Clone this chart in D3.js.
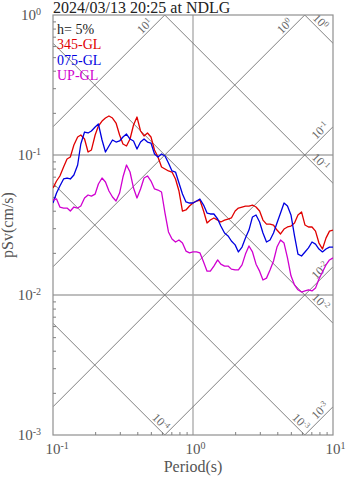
<!DOCTYPE html>
<html>
<head>
<meta charset="utf-8">
<script src="https://cdn.jsdelivr.net/npm/d3@7"></script>
<style>
html, body { margin: 0; padding: 0; background: #fff; }
svg { display: block; font-family: "Liberation Serif", "Times New Roman", serif; }
</style>
</head>
<body>
<svg id="chart" width="347" height="478"></svg>
<script>
// Pseudo-velocity response spectra (h = 5%), tripartite log-log plot
const titleText = "2024/03/13 20:25 at NDLG";
const dampingText = "h= 5%";

// Periods (s) shared by all components
const periods = [
  0.100,0.106,0.112,0.119,0.126,0.133,0.141,0.150,0.158,0.168,
  0.178,0.188,0.200,0.211,0.224,0.237,0.251,0.266,0.282,0.299,
  0.316,0.335,0.355,0.376,0.398,0.422,0.447,0.473,0.501,0.531,
  0.562,0.596,0.631,0.668,0.708,0.750,0.794,0.841,0.891,0.944,
  1.00,1.06,1.12,1.19,1.26,1.33,1.41,1.50,1.58,1.68,
  1.78,1.88,2.00,2.11,2.24,2.37,2.51,2.66,2.82,2.99,
  3.16,3.35,3.55,3.76,3.98,4.22,4.47,4.73,5.01,5.31,
  5.62,5.96,6.31,6.68,7.08,7.50,7.94,8.41,8.91,9.44,
  10.0
];

// pSv (cm/s), component 345-GL
const sv345 = [
  0.0581,0.0652,0.0708,0.0821,0.0936,0.0968,0.1179,0.1344,0.1389,0.1301,
  0.1050,0.1085,0.1389,0.1611,0.1749,0.1837,0.1899,0.1837,0.1692,0.1389,
  0.1198,0.1159,0.1301,0.1638,0.1868,0.1484,0.1367,0.1436,0.1344,0.1085,
  0.0968,0.0821,0.0794,0.0769,0.0756,0.0674,0.0553,0.0398,0.0405,0.0432,
  0.0454,0.0469,0.0477,0.0398,0.0327,0.0343,0.0355,0.0343,0.0332,0.0343,
  0.0349,0.0355,0.0398,0.0418,0.0425,0.0432,0.0432,0.0439,0.0425,0.0398,
  0.0343,0.0321,0.0321,0.0316,0.0291,0.0273,0.0296,0.0306,0.0311,0.0327,
  0.0373,0.0392,0.0316,0.0306,0.0306,0.0286,0.0235,0.0213,0.0255,0.0286,
  0.0291
];

// pSv (cm/s), component 075-GL
const sv075 = [
  0.0454,0.0535,0.0600,0.0674,0.0685,0.0674,0.0720,0.0848,0.1198,0.1459,
  0.1436,0.1484,0.1585,0.1665,0.1280,0.1050,0.1159,0.1280,0.1238,0.1259,
  0.1344,0.1412,0.1301,0.1259,0.1103,0.1238,0.1301,0.1238,0.1218,0.1016,
  0.0968,0.1016,0.0984,0.0877,0.0769,0.0756,0.0631,0.0526,0.0462,0.0454,
  0.0454,0.0469,0.0485,0.0439,0.0385,0.0379,0.0379,0.0349,0.0311,0.0277,
  0.0264,0.0243,0.0228,0.0203,0.0220,0.0255,0.0291,0.0361,0.0373,0.0332,
  0.0277,0.0239,0.0247,0.0277,0.0327,0.0385,0.0454,0.0432,0.0373,0.0264,
  0.0196,0.0190,0.0203,0.0217,0.0239,0.0231,0.0213,0.0203,0.0213,0.0220,
  0.0220
];

// pSv (cm/s), vertical component UP-GL
const svUP = [
  0.0477,0.0485,0.0425,0.0418,0.0418,0.0398,0.0425,0.0418,0.0432,0.0493,
  0.0518,0.0509,0.0526,0.0621,0.0685,0.0641,0.0553,0.0501,0.0469,0.0535,
  0.0696,0.0848,0.0756,0.0581,0.0493,0.0572,0.0685,0.0708,0.0652,0.0572,
  0.0562,0.0544,0.0385,0.0282,0.0251,0.0239,0.0247,0.0235,0.0206,0.0200,
  0.0203,0.0203,0.0200,0.0172,0.0148,0.0148,0.0161,0.0178,0.0166,0.0161,
  0.0161,0.0153,0.0151,0.0151,0.0164,0.0196,0.0224,0.0203,0.0166,0.0148,
  0.0128,0.0132,0.0151,0.0175,0.0220,0.0247,0.0235,0.0184,0.0137,0.0118,
  0.0109,0.0105,0.0107,0.0109,0.0107,0.0112,0.0130,0.0146,0.0164,0.0178,
  0.0184
];

const seriesNames = ["345-GL", "075-GL", "UP-GL"];
const seriesValues = [sv345, sv075, svUP];
const seriesColors = ["#e00000", "#0000e0", "#d000d0"];

// Decade tick values
const xDecades = [0.1, 1, 10];
const yDecades = [0.001, 0.01, 0.1, 1];

// Constant pseudo-acceleration (cm/s^2) and displacement (cm) guide lines
const accelLevels = [10, 1, 0.1, 0.01, 0.001];
const dispLevels = [1, 0.1, 0.01, 0.001, 0.0001];

const TWO_PI = 2 * Math.PI;
const plot = { left: 53, right: 333, top: 15, bottom: 435 };

const svg = d3.select("#chart");
const x = d3.scaleLog().domain([0.1, 10]).range([plot.left, plot.right]);
const y = d3.scaleLog().domain([0.001, 1]).range([plot.bottom, plot.top]);

svg.append("defs").append("clipPath").attr("id", "plotClip")
  .append("rect")
  .attr("x", plot.left).attr("y", plot.top)
  .attr("width", plot.right - plot.left).attr("height", plot.bottom - plot.top);

// Grid lines at interior decades
const grid = svg.append("g").attr("stroke", "#a8a8a8").attr("stroke-width", 1.3);
grid.selectAll("line.v").data(xDecades.slice(1, -1)).join("line")
  .attr("x1", d => x(d)).attr("x2", d => x(d))
  .attr("y1", plot.top).attr("y2", plot.bottom);
grid.selectAll("line.h").data(yDecades.slice(1, -1)).join("line")
  .attr("x1", plot.left).attr("x2", plot.right)
  .attr("y1", d => y(d)).attr("y2", d => y(d));

// Diagonal guide lines
const diag = svg.append("g").attr("clip-path", "url(#plotClip)")
  .attr("stroke", "#727272").attr("stroke-width", 0.9).attr("fill", "none");
const tMin = x.domain()[0], tMax = x.domain()[1];
const accelSv = (a, t) => a * t / TWO_PI;
const dispSv = (d, t) => TWO_PI * d / t;

accelLevels.forEach(a => {
  diag.append("line")
    .attr("x1", x(tMin)).attr("y1", y(accelSv(a, tMin)))
    .attr("x2", x(tMax)).attr("y2", y(accelSv(a, tMax)));
});
dispLevels.forEach(d => {
  diag.append("line")
    .attr("x1", x(tMin)).attr("y1", y(dispSv(d, tMin)))
    .attr("x2", x(tMax)).attr("y2", y(dispSv(d, tMax)));
});

// Power-of-ten label helper: "10" with a raised exponent
function powLabel(sel, exp, baseSize, supSize, supRaise) {
  sel.append("tspan").attr("font-size", baseSize).text("10");
  sel.append("tspan").attr("font-size", supSize).attr("dy", -supRaise).text(exp);
}

const diagLabels = svg.append("g").attr("fill", "#666");
const S2 = Math.SQRT1_2;
const perp = 6.5;

accelLevels.forEach(a => {
  // upper end of the line inside the frame
  let tEnd = TWO_PI / a, onTop = true;
  if (tEnd > tMax) { tEnd = tMax; onTop = false; }
  const ex = x(tEnd), ey = y(accelSv(a, tEnd));
  const along = onTop ? 22 : 12;
  const cx = ex - along * S2 - perp * S2;
  const cy = ey + along * S2 - perp * S2;
  const t = diagLabels.append("text")
    .attr("transform", `translate(${cx},${cy}) rotate(-45)`)
    .attr("text-anchor", "middle").attr("y", 4);
  powLabel(t, Math.round(Math.log10(a)), 12, 8, 4);
});

dispLevels.forEach(d => {
  // lower-right end of the line inside the frame
  let tEnd = TWO_PI * d / 0.001, onBottom = true;
  if (tEnd > tMax) { tEnd = tMax; onBottom = false; }
  const ex = x(tEnd), ey = y(dispSv(d, tEnd));
  const along = onBottom ? 12 : 24;
  const cx = ex - along * S2 + perp * S2;
  const cy = ey - along * S2 - perp * S2;
  const t = diagLabels.append("text")
    .attr("transform", `translate(${cx},${cy}) rotate(45)`)
    .attr("text-anchor", "middle").attr("y", 4);
  powLabel(t, Math.round(Math.log10(d)), 12, 8, 4);
});

// Frame
svg.append("rect")
  .attr("x", plot.left).attr("y", plot.top)
  .attr("width", plot.right - plot.left).attr("height", plot.bottom - plot.top)
  .attr("fill", "none").attr("stroke", "#909090").attr("stroke-width", 1.2);

// Inward minor ticks
const minorX = [], minorY = [];
xDecades.slice(0, -1).forEach(d => { for (let k = 2; k <= 9; k++) minorX.push(d * k); });
yDecades.slice(0, -1).forEach(d => { for (let k = 2; k <= 9; k++) minorY.push(d * k); });

const xAxis = svg.append("g").attr("transform", `translate(0,${plot.bottom})`)
  .call(d3.axisBottom(x).tickValues(minorX).tickSize(-3).tickFormat(""));
const yAxis = svg.append("g").attr("transform", `translate(${plot.left},0)`)
  .call(d3.axisLeft(y).tickValues(minorY).tickSize(-3).tickFormat(""));
[xAxis, yAxis].forEach(g => {
  g.select(".domain").remove();
  g.selectAll(".tick line").attr("stroke", "#808080").attr("stroke-width", 1);
});

// Decade tick labels
const tickColor = "#555";
xDecades.forEach(d => {
  const t = svg.append("text").attr("fill", tickColor)
    .attr("x", x(d) - 7.5).attr("y", plot.bottom + 19);
  powLabel(t, Math.round(Math.log10(d)), 15, 10, 5);
});
yDecades.forEach(d => {
  const t = svg.append("text").attr("fill", tickColor)
    .attr("text-anchor", "end")
    .attr("x", plot.left - 12).attr("y", y(d) + 5);
  powLabel(t, Math.round(Math.log10(d)), 15, 10, 5);
});

// Axis titles
svg.append("text").attr("fill", "#555").attr("font-size", 16)
  .attr("text-anchor", "middle")
  .attr("x", (plot.left + plot.right) / 2).attr("y", 472)
  .text("Period(s)");
svg.append("text").attr("fill", "#555").attr("font-size", 16)
  .attr("text-anchor", "middle")
  .attr("transform", `translate(13,${(plot.top + plot.bottom) / 2}) rotate(-90)`)
  .text("pSv(cm/s)");

// Spectra
const line = d3.line()
  .x((d, i) => x(periods[i]))
  .y(d => y(d));
const curves = svg.append("g").attr("clip-path", "url(#plotClip)");
seriesValues.forEach((vals, i) => {
  curves.append("path")
    .attr("d", line(vals))
    .attr("fill", "none")
    .attr("stroke", seriesColors[i])
    .attr("stroke-width", 1.3)
    .attr("stroke-linejoin", "round");
});

// Title
svg.append("text").attr("fill", "#222").attr("font-size", 16)
  .attr("x", plot.left).attr("y", 12.5)
  .text(titleText);

// Legend
const legendSize = 14, legendStep = 15.6;
const legend = svg.append("g").attr("font-size", legendSize);
legend.append("text").attr("x", 57).attr("y", 33.5).attr("fill", "#222").text(dampingText);
seriesNames.forEach((name, i) => {
  legend.append("text").attr("x", 57).attr("y", 33.5 + (i + 1) * legendStep)
    .attr("fill", seriesColors[i]).text(name);
});
</script>
</body>
</html>
